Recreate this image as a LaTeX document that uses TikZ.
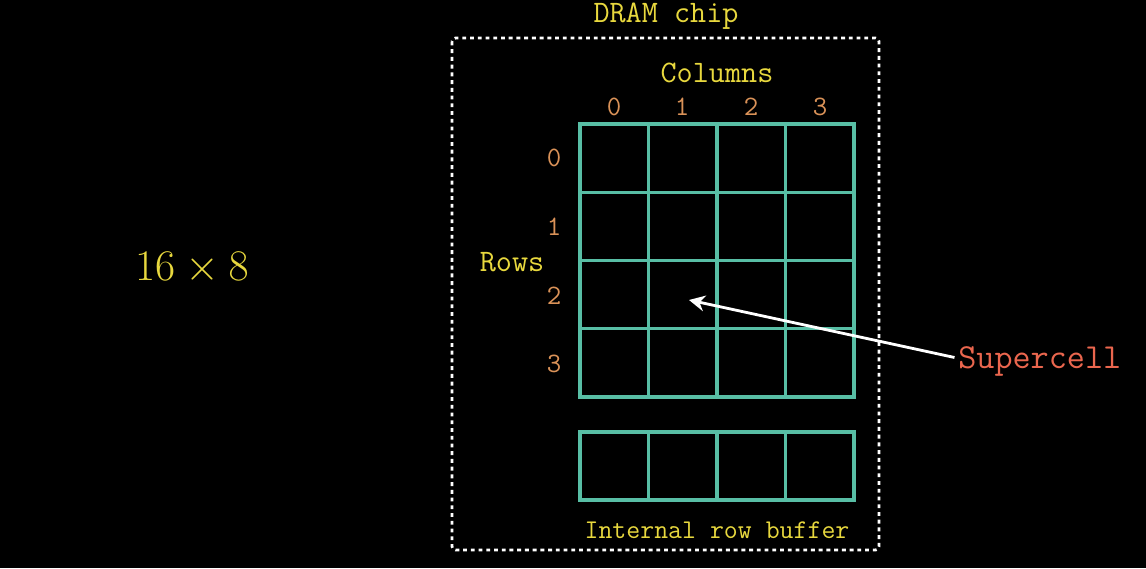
\documentclass[tikz,border=0pt]{standalone}
\usetikzlibrary{arrows.meta}
\definecolor{ylw}{RGB}{232,216,62}
\definecolor{org}{RGB}{218,146,88}
\definecolor{tl}{RGB}{88,190,165}
\definecolor{sred}{RGB}{234,102,78}
\tikzset{
  lbl/.style={text=ylw, font=\ttfamily\fontsize{17.8}{20}\selectfont, inner sep=0pt},
  idx/.style={text=org, font=\ttfamily\fontsize{16}{18}\selectfont, inner sep=0pt},
  gridline/.style={draw=tl, line width=1.8pt},
  gridouter/.style={draw=tl, line width=2.4pt},
  chip/.style={draw=white, line width=1.6pt, dash pattern=on 2.2pt off 2.2pt, rounded corners=2pt},
  ptr/.style={draw=white, line width=1.6pt, -{Stealth[length=9pt,width=9pt]}}
}
\begin{document}
\begin{tikzpicture}[x=0.02cm,y=-0.02cm]
\fill[black] (0,0) rectangle (1146,568);
\useasboundingbox (0,0) rectangle (1146,568);
% chip outline
\draw[chip] (452,38) rectangle (879,550);
\node[lbl] (title) at (666,16) {DRAM chip};
\node[lbl] (cols) at (717,73) {Columns};
\node[lbl] (rows) at (512,262) {Rows};
\node[lbl, font=\ttfamily\fontsize{15.4}{18}\selectfont] (buf) at (717,530) {Internal row buffer};
% column indices
\node[idx] (c0) at (614,107) {0};
\node[idx] (c1) at (682,107) {1};
\node[idx] (c2) at (751,107) {2};
\node[idx] (c3) at (820,107) {3};
% row indices
\node[idx] (r0) at (554,158) {0};
\node[idx] (r1) at (554,227) {1};
\node[idx] (r2) at (554,296) {2};
\node[idx] (r3) at (554,364) {3};
% array grid
\foreach \x in {648.5,717,785.5} \draw[gridline] (\x,124) -- (\x,397);
\foreach \y in {192.25,260.5,328.75} \draw[gridline] (580,\y) -- (854,\y);
\draw[gridouter] (580,124) rectangle (854,397);
% row buffer
\foreach \x in {648.5,717,785.5} \draw[gridline] (\x,432) -- (\x,500);
\draw[gridouter] (580,432) rectangle (854,500);
% size
\node[text=ylw, inner sep=0pt, font=\fontsize{23.8}{28}\selectfont] (size) at (192,268) {$16\times 8$};
% supercell
\node[text=sred, font=\ttfamily\fontsize{20}{22}\selectfont, inner sep=0pt, anchor=west] (super) at (958,361) {Supercell};
\coordinate (tip) at (689,300);
\draw[ptr] ([xshift=-2pt,yshift=2pt]super.west) -- (tip);
\end{tikzpicture}
\end{document}
